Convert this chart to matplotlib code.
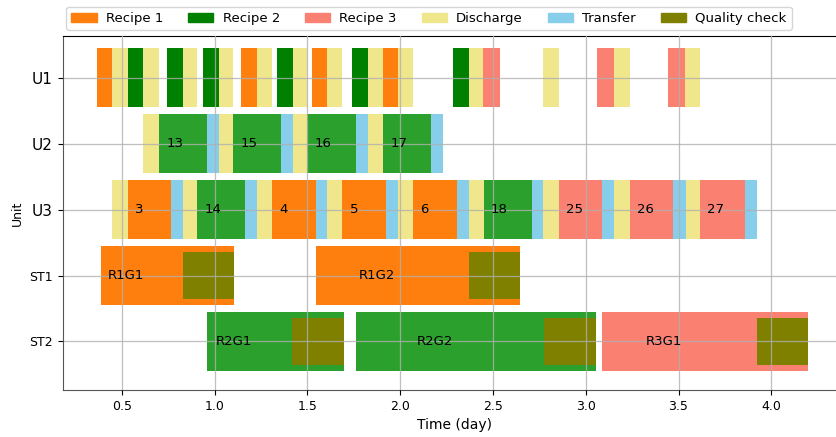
import matplotlib
matplotlib.use("Agg")
import matplotlib.pyplot as plt
from matplotlib.patches import Patch

# task lists per unit: (start [day], end [day], kind, label)
U1_TASKS = [
    (0.369, 0.449, "R1", ""), (0.449, 0.536, "D", ""),
    (0.536, 0.616, "R2", ""), (0.616, 0.701, "D", ""),
    (0.744, 0.830, "R2", ""), (0.830, 0.907, "D", ""),
    (0.938, 1.023, "R2", ""), (1.023, 1.101, "D", ""),
    (1.144, 1.227, "R1", ""), (1.227, 1.311, "D", ""),
    (1.337, 1.421, "R2", ""), (1.421, 1.498, "D", ""),
    (1.525, 1.606, "R1", ""), (1.606, 1.689, "D", ""),
    (1.742, 1.827, "R2", ""), (1.827, 1.906, "D", ""),
    (1.906, 1.987, "R1", ""), (1.987, 2.070, "D", ""),
    (2.287, 2.371, "R2", ""), (2.371, 2.448, "D", ""),
    (2.448, 2.537, "R3", ""),
    (2.772, 2.855, "D", ""),
    (3.063, 3.151, "R3", ""), (3.151, 3.236, "D", ""),
    (3.443, 3.536, "R3", ""), (3.536, 3.615, "D", ""),
]

U2_TASKS = [
    (0.616, 0.701, "D", ""), (0.701, 0.958, "P2", "13"), (0.958, 1.023, "T", ""),
    (1.023, 1.101, "D", ""), (1.101, 1.360, "P2", "15"), (1.360, 1.425, "T", ""),
    (1.425, 1.498, "D", ""), (1.498, 1.762, "P2", "16"), (1.762, 1.827, "T", ""),
    (1.827, 1.906, "D", ""), (1.906, 2.168, "P2", "17"), (2.168, 2.233, "T", ""),
]

U3_TASKS = [
    (0.448, 0.534, "D", ""), (0.534, 0.766, "R1", "3"), (0.766, 0.830, "T", ""),
    (0.830, 0.907, "D", ""), (0.907, 1.164, "P2", "14"), (1.164, 1.229, "T", ""),
    (1.229, 1.310, "D", ""), (1.310, 1.545, "R1", "4"), (1.545, 1.606, "T", ""),
    (1.606, 1.688, "D", ""), (1.688, 1.924, "R1", "5"), (1.924, 1.987, "T", ""),
    (1.987, 2.069, "D", ""), (2.069, 2.306, "R1", "6"), (2.306, 2.371, "T", ""),
    (2.371, 2.450, "D", ""), (2.450, 2.712, "P2", "18"), (2.712, 2.772, "T", ""),
    (2.772, 2.856, "D", ""), (2.856, 3.088, "R3", "25"), (3.088, 3.152, "T", ""),
    (3.152, 3.237, "D", ""), (3.237, 3.472, "R3", "26"), (3.472, 3.539, "T", ""),
    (3.539, 3.616, "D", ""), (3.616, 3.859, "R3", "27"), (3.859, 3.923, "T", ""),
]

# storage tanks: (start, end, kind, label, quality check start)
ST1_BATCHES = [
    (0.389, 1.105, "R1", "R1G1", 0.830),
    (1.545, 2.647, "R1", "R1G2", 2.371),
]
ST2_BATCHES = [
    (0.957, 1.698, "P2", "R2G1", 1.420),
    (1.762, 3.054, "P2", "R2G2", 2.773),
    (3.089, 4.199, "R3", "R3G1", 3.922),
]

ROWS = ["U1", "U2", "U3", "ST1", "ST2"]
ROW_Y = [5, 4, 3, 2, 1]

COLORS = {
    "R1": "#ff7f0e",
    "R2": "green",
    "P2": "#2ca02c",
    "R3": "salmon",
    "D": "khaki",
    "T": "skyblue",
    "Q": "olive",
}
LEGEND_ITEMS = [("R1", "Recipe 1"), ("R2", "Recipe 2"), ("R3", "Recipe 3"),
                ("D", "Discharge"), ("T", "Transfer"), ("Q", "Quality check")]

fig = plt.figure(figsize=(8.37, 4.37), dpi=100)
ax = fig.add_axes([0.0749, 0.1076, 0.9353, 0.81])

H = 0.9
for y, tasks in zip(ROW_Y[:3], [U1_TASKS, U2_TASKS, U3_TASKS]):
    for start, end, kind, label in tasks:
        ax.barh(y, end - start, left=start, height=H, color=COLORS[kind], zorder=2)
        if label:
            ax.text(start + 0.04, y, label, ha="left", va="center", fontsize=9.5, zorder=4)

for y, batches in zip(ROW_Y[3:], [ST1_BATCHES, ST2_BATCHES]):
    for start, end, kind, label, qc in batches:
        ax.barh(y, end - start, left=start, height=H, color=COLORS[kind], zorder=2)
        ax.barh(y, end - qc, left=qc, height=0.7, color=COLORS["Q"], zorder=2.5)
        mid = (start + end) / 2
        ax.text(mid - 0.32, y, label, ha="left", va="center", fontsize=9.5, zorder=4)

ax.set_xlim(0.182, 4.4)
ax.set_ylim(0.265, 5.63)
ax.set_yticks(ROW_Y)
ax.set_yticklabels(ROWS)
for lab in ax.get_yticklabels():
    lab.set_fontsize(11 if lab.get_text().startswith("U") else 9)
ax.tick_params(axis="x", labelsize=9)
ax.set_xlabel("Time (day)", fontsize=10)
ax.set_ylabel("Unit", fontsize=9)
ax.grid(True, color="#b0b0b0", lw=0.9, alpha=0.8, zorder=3)
ax.set_axisbelow(False)
for sp in ["left", "bottom"]:
    ax.spines[sp].set_color("#555555")

handles = [Patch(color=COLORS[k], label=name) for k, name in LEGEND_ITEMS]
fig.legend(handles=handles, loc="center", bbox_to_anchor=(0.5125, 0.958), ncol=6,
           fontsize=9.5, handlelength=1.9, handletextpad=0.7, columnspacing=1.9,
           frameon=True, fancybox=True)

fig.savefig("out.png", dpi=100)
